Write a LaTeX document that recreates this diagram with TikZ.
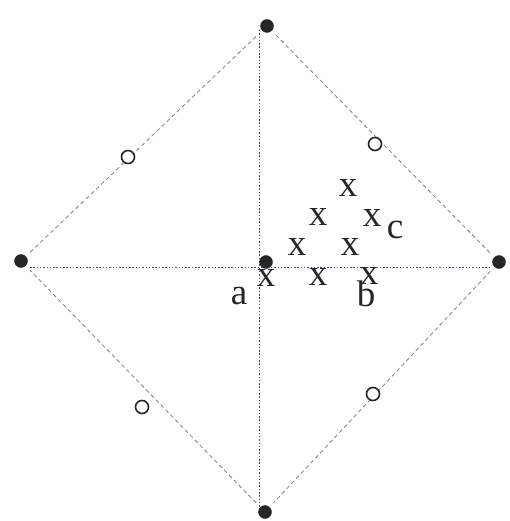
\documentclass[tikz,border=0pt]{standalone}
\usepackage{fontspec}
\setmainfont{Liberation Serif}
\begin{document}
\begin{tikzpicture}[x=1pt,y=-1pt,
  solid dot/.style={circle,fill=black!85,draw=black!85,inner sep=0pt,minimum size=13pt},
  open dot/.style={circle,draw=black!85,line width=1.6pt,fill=white,inner sep=0pt,minimum size=13pt},
  edge line/.style={draw=black!50,line width=0.8pt,dash pattern=on 4pt off 3pt,shorten <=6pt,shorten >=6pt},
  axis line/.style={draw={rgb,255:red,70;green,70;blue,100},line width=1pt,dash pattern=on 1.5pt off 1.8pt},
  mark x/.style={inner sep=0pt,font=\fontsize{37}{42}\selectfont,text=black!85},
  lbl/.style={inner sep=0pt,font=\fontsize{37}{42}\selectfont,text=black!85}]
\useasboundingbox (0,0) rectangle (509,521);
\fill[white] (0,0) rectangle (509,521);
% axes
\coordinate (vt) at (259,30);
\coordinate (vb) at (259,515);
\coordinate (hl) at (30,267);
\coordinate (hr) at (492,267);
\draw[axis line] (vt) -- (vb);
\draw[axis line] (hl) -- (hr);
% solid vertices
\node[solid dot] (T) at (267,26) {};
\node[solid dot] (L) at (21,261) {};
\node[solid dot] (R) at (499,262) {};
\node[solid dot] (B) at (265,512) {};
\node[solid dot] (C) at (266,262) {};
% diamond edges
\draw[edge line] (L) -- (T);
\draw[edge line] (T) -- (R);
\draw[edge line] (R) -- (B);
\draw[edge line] (B) -- (L);
% open circles
\node[open dot] (o1) at (128,157) {};
\node[open dot] (o2) at (375,144) {};
\node[open dot] (o3) at (142,407) {};
\node[open dot] (o4) at (373,394) {};
% crosses
\node[mark x] (x1) at (348,188) {x};
\node[mark x] (x2) at (318,217) {x};
\node[mark x] (x3) at (372,218) {x};
\node[mark x] (x4) at (297,247) {x};
\node[mark x] (x5) at (350,247) {x};
\node[mark x] (x6) at (266,278) {x};
\node[mark x] (x7) at (318,277) {x};
\node[mark x] (x8) at (369,276) {x};
% labels
\node[lbl] (lc) at (395,230) {c};
\node[lbl] (la) at (239,296) {a};
\node[lbl] (lb) at (366,294) {b};
\end{tikzpicture}
\end{document}
